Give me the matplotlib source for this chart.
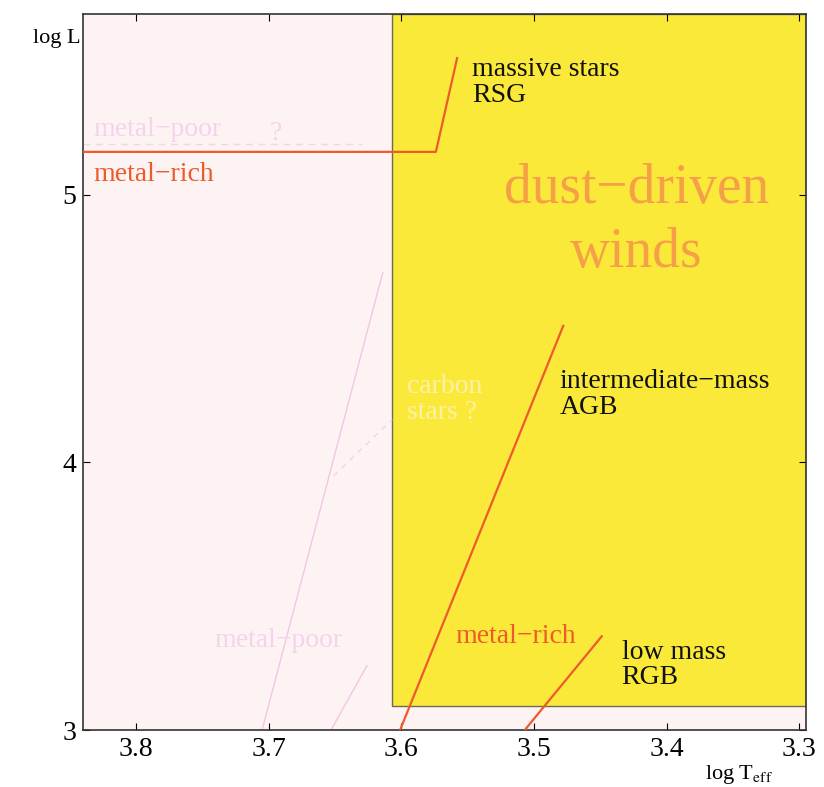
import matplotlib
matplotlib.use("Agg")
import matplotlib.pyplot as plt
from matplotlib.patches import Rectangle

plt.rcParams['font.family'] = ['Liberation Serif', 'DejaVu Serif']
plt.rcParams['mathtext.fontset'] = 'stix'

# ---------- data (log Teff, log L) ----------
x_range = [3.84, 3.295]
y_range = [3.0, 5.675]
x_ticks = [3.8, 3.7, 3.6, 3.5, 3.4, 3.3]
y_ticks = [3, 4, 5]

# dust-driven wind region
dust_teff = [3.607, 3.295]
dust_logL = [3.09, 5.675]

# red giant tracks, metal-rich
rsg_teff = [3.84, 3.574, 3.558]
rsg_logL = [5.16, 5.16, 5.51]
agb_teff = [3.601, 3.478]
agb_logL = [3.0, 4.51]
rgb_teff = [3.507, 3.449]
rgb_logL = [3.0, 3.35]

# metal-poor tracks
rsg_poor_teff = [3.84, 3.63]
rsg_poor_logL = [5.19, 5.19]
agb_poor_teff = [3.705, 3.614]
agb_poor_logL = [3.0, 4.71]
rgb_poor_teff = [3.653, 3.626]
rgb_poor_logL = [3.0, 3.24]
carbon_teff = [3.651, 3.607]
carbon_logL = [3.95, 4.16]

# ---------- colours ----------
bg_pink = "#fdf3f2"
yellow = "#fbe93a"
orange = "#ee5a2c"
pink = "#f2c6e6"
pale = "#f4d4ec"
big_orange = "#f5a047"

fig = plt.figure(figsize=(8.24, 7.87), dpi=100)
ax = fig.add_axes([0.1007, 0.0724, 0.8775, 0.9098])
ax.set_facecolor(bg_pink)

ax.add_patch(Rectangle((dust_teff[0], dust_logL[0]), dust_teff[1] - dust_teff[0],
                       dust_logL[1] - dust_logL[0], facecolor=yellow,
                       edgecolor="#6a6a50", lw=1.0, zorder=1))

# metal-poor (faint)
ax.plot(rsg_poor_teff, rsg_poor_logL, color=pale, lw=1.0, ls=(0, (5, 4)), zorder=2)
ax.plot(agb_poor_teff, agb_poor_logL, color=pink, lw=1.0, zorder=2)
ax.plot(rgb_poor_teff, rgb_poor_logL, color=pink, lw=1.0, zorder=2)
ax.plot(carbon_teff, carbon_logL, color=pale, lw=1.0, ls=(0, (4, 4)), zorder=2)

# metal-rich
ax.plot(rsg_teff, rsg_logL, color=orange, lw=1.6, zorder=3)
ax.plot(agb_teff, agb_logL, color=orange, lw=1.6, zorder=3)
ax.plot(rgb_teff, rgb_logL, color=orange, lw=1.6, zorder=3)

fs = 20
ax.text(3.8325, 5.22, "metal\u2212poor", color=pale, fontsize=fs, zorder=4)
ax.text(3.699, 5.205, "?", color=pale, fontsize=fs, zorder=4)
ax.text(3.8325, 5.05, "metal\u2212rich", color=orange, fontsize=fs, zorder=4)
ax.text(3.547, 5.418, "massive stars\nRSG", color="#111111", fontsize=fs,
        va="center", linespacing=1.05, zorder=4)
ax.text(3.423, 4.90, "dust\u2212driven\nwinds", color=big_orange, fontsize=40,
        ha="center", va="center", linespacing=1.3, zorder=4)
ax.text(3.596, 4.235, "carbon\nstars ?", color="#fdf1a8", fontsize=fs,
        va="center", linespacing=1.05, zorder=4)
ax.text(3.481, 4.254, "intermediate\u2212mass\nAGB", color="#111111", fontsize=fs,
        va="center", linespacing=1.05, zorder=4)
ax.text(3.741, 3.31, "metal\u2212poor", color=pale, fontsize=fs, zorder=4)
ax.text(3.5595, 3.325, "metal\u2212rich", color=orange, fontsize=fs, zorder=4)
ax.text(3.434, 3.243, "low mass\nRGB", color="#111111", fontsize=fs,
        va="center", linespacing=1.05, zorder=4)

ax.set_xlim(x_range)
ax.set_ylim(y_range)
ax.set_xticks(x_ticks)
ax.set_yticks(y_ticks)
ax.tick_params(direction="in", top=True, right=True, length=5, labelsize=20, pad=5)
for s in ax.spines.values():
    s.set_color("#333333")
    s.set_linewidth(1.2)

fig.text(0.040, 0.945, "log L", fontsize=16)
fig.text(0.855, 0.010, r"log T$_{\rm eff}$", fontsize=16)

fig.savefig("out.png", dpi=100)
